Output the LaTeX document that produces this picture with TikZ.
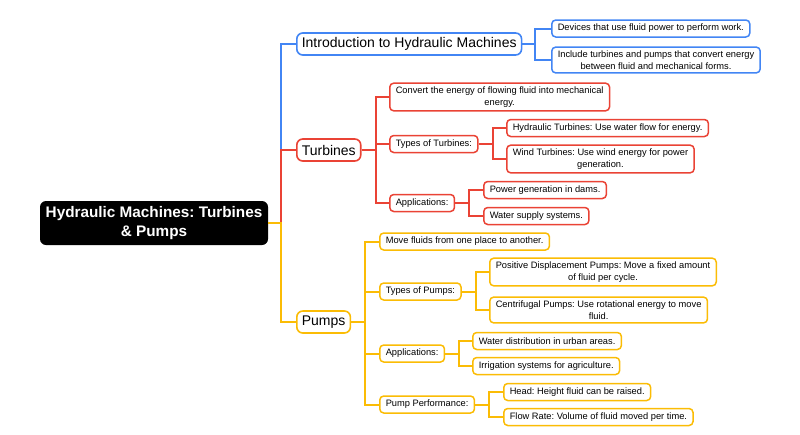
\documentclass[tikz,border=0pt]{standalone}
\usepackage{fontspec}
\setmainfont{Liberation Sans}
\usepackage{xcolor}
\definecolor{cblue}{RGB}{66,133,244}
\definecolor{cred}{RGB}{234,67,53}
\definecolor{cyellow}{RGB}{251,188,5}
\frenchspacing
\tikzset{
  rootbox/.style={fill=black,text=white,rounded corners=6,align=center,
    font=\bfseries\fontsize{15.3}{19}\selectfont,minimum width=228,minimum height=44,inner sep=0},
  topic/.style={draw,line width=1.6,rounded corners=6,fill=white,anchor=west,
    font=\fontsize{14}{17}\selectfont,inner xsep=5,inner ysep=0,minimum height=22},
  leaf/.style={draw,line width=1.5,rounded corners=4,fill=white,anchor=west,align=center,
    font=\fontsize{9.3}{12}\selectfont,inner xsep=6,inner ysep=3.5,minimum height=17},
  branch/.style={line width=2},
}

\begin{document}
\begin{tikzpicture}[x=1pt,y=1pt,yscale=-1,xscale=1]
\useasboundingbox (0,0) rectangle (800,434);

%Root
\node[rootbox] (root) at (154,223) {Hydraulic Machines: Turbines\\\& Pumps};

%Main topics
\node[topic,draw=cblue] (intro) at (296,44) {Introduction to Hydraulic Machines};
\node[topic,draw=cred] (turb) at (296,150) {Turbines};
\node[topic,draw=cyellow] (pump) at (296,322) {Pumps};

%Introduction
\node[leaf,draw=cblue] (introA) at (551,28.5) {Devices that use fluid power to perform work.};
\node[leaf,draw=cblue] (introB) at (551,60) {Include turbines and pumps that convert energy\\between fluid and mechanical forms.};

%Turbines
\node[leaf,draw=cred] (turbA) at (389,97) {Convert the energy of flowing fluid into mechanical\\energy.};
\node[leaf,draw=cred] (turbB) at (389,144) {Types of Turbines:};
\node[leaf,draw=cred] (turbC) at (389,203) {Applications:};
\node[leaf,draw=cred] (turbBa) at (506,128) {Hydraulic Turbines: Use water flow for energy.};
\node[leaf,draw=cred] (turbBb) at (506,159) {Wind Turbines: Use wind energy for power\\generation.};
\node[leaf,draw=cred] (turbCa) at (483,190) {Power generation in dams.};
\node[leaf,draw=cred] (turbCb) at (483,216) {Water supply systems.};

%Pumps
\node[leaf,draw=cyellow] (pumpA) at (379,241.5) {Move fluids from one place to another.};
\node[leaf,draw=cyellow] (pumpB) at (379,291.5) {Types of Pumps:};
\node[leaf,draw=cyellow] (pumpC) at (379,353.5) {Applications:};
\node[leaf,draw=cyellow] (pumpD) at (379,404.5) {Pump Performance:};
\node[leaf,draw=cyellow] (pumpBa) at (489,272) {Positive Displacement Pumps: Move a fixed amount\\of fluid per cycle.};
\node[leaf,draw=cyellow] (pumpBb) at (489,310) {Centrifugal Pumps: Use rotational energy to move\\fluid.};
\node[leaf,draw=cyellow] (pumpCa) at (472,341) {Water distribution in urban areas.};
\node[leaf,draw=cyellow] (pumpCb) at (472,366) {Irrigation systems for agriculture.};
\node[leaf,draw=cyellow] (pumpDa) at (503,392) {Head: Height fluid can be raised.};
\node[leaf,draw=cyellow] (pumpDb) at (503,417) {Flow Rate: Volume of fluid moved per time.};

%Branches
\draw[branch,cblue] (root.east) -- ++(13,0) |- (intro.west);
\draw[branch,cred] (root.east) -- ++(13,0) |- (turb.west);
\draw[branch,cyellow] (root.east) -- ++(13,0) |- (pump.west);

\foreach \c in {introA,introB}
  \draw[branch,cblue] (intro.east) -- ++(13,0) |- (\c.west);

\foreach \c in {turbA,turbB,turbC}
  \draw[branch,cred] (turb.east) -- ++(14,0) |- (\c.west);
\foreach \c in {turbBa,turbBb}
  \draw[branch,cred] (turbB.east) -- ++(14,0) |- (\c.west);
\foreach \c in {turbCa,turbCb}
  \draw[branch,cred] (turbC.east) -- ++(14,0) |- (\c.west);

\foreach \c in {pumpA,pumpB,pumpC,pumpD}
  \draw[branch,cyellow] (pump.east) -- ++(14,0) |- (\c.west);
\foreach \c in {pumpBa,pumpBb}
  \draw[branch,cyellow] (pumpB.east) -- ++(14,0) |- (\c.west);
\foreach \c in {pumpCa,pumpCb}
  \draw[branch,cyellow] (pumpC.east) -- ++(14,0) |- (\c.west);
\foreach \c in {pumpDa,pumpDb}
  \draw[branch,cyellow] (pumpD.east) -- ++(14,0) |- (\c.west);

\end{tikzpicture}
\end{document}
